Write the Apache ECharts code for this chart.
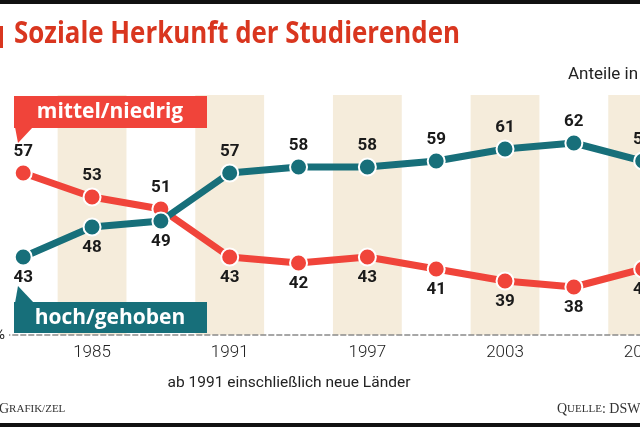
<!DOCTYPE html>
<html>
<head>
<meta charset="utf-8">
<script src="https://cdn.jsdelivr.net/npm/echarts@6/dist/echarts.min.js"></script>
<style>
html,body{margin:0;padding:0;background:#fff;}
#chart{width:640px;height:427px;}
</style>
</head>
<body>
<div id="chart"></div>
<script>
const years = ['1982','1985','1988','1991','1994','1997','2000','2003','2006','2009'];
const mittelNiedrig = [57, 53, 51, 43, 42, 43, 41, 39, 38, 41];
const hochGehoben   = [43, 48, 49, 57, 58, 58, 59, 61, 62, 59];
const yMin = 30, yMax = 70;

const RED = '#f0443a', TEAL = '#176f7a', BEIGE = '#f5ecdb';

function mk(vals, other) {
  return vals.map((v, i) => ({
    value: v,
    label: { position: v >= other[i] ? 'top' : 'bottom' }
  }));
}

const TITLE = 'Soziale Herkunft der Studierenden';
const TITLE_FONT = 'bold 30px "Open Sans", sans-serif';
const mc = document.createElement('canvas').getContext('2d');
mc.font = TITLE_FONT;
const titleScale = 446 / mc.measureText(TITLE).width;

const chart = echarts.init(document.getElementById('chart'), null, {renderer: 'canvas'});
const labelStyle = {
  show: true, distance: 3, color: '#1a1a1a',
  fontFamily: 'Roboto', fontWeight: 'bold', fontSize: 17
};
chart.setOption({
  animation: false,
  backgroundColor: '#fff',
  grid: { left: -11.2, width: 688.3, top: 95, height: 240, containLabel: false, outerBoundsMode: 'none' },
  xAxis: {
    type: 'category', data: years, boundaryGap: true,
    axisLine: { show: true, lineStyle: { color: '#8a8a8a', width: 1.5, type: [5, 3] } },
    axisTick: { show: false },
    axisLabel: {
      interval: (i) => i % 2 === 1, margin: 9,
      fontFamily: 'Roboto', fontSize: 17, fontWeight: 300, color: '#222'
    },
    splitArea: { show: true, interval: 0, areaStyle: { color: ['rgba(255,255,255,0)', BEIGE] } },
    splitLine: { show: false }
  },
  yAxis: {
    type: 'value', min: yMin, max: yMax, show: false,
    splitLine: { show: false }
  },
  series: [
    {
      name: 'mittel/niedrig', type: 'line', data: mk(mittelNiedrig, hochGehoben),
      symbol: 'circle', symbolSize: 17,
      lineStyle: { color: RED, width: 7 },
      itemStyle: { color: RED, borderColor: '#fff', borderWidth: 2 },
      label: labelStyle, z: 3
    },
    {
      name: 'hoch/gehoben', type: 'line', data: mk(hochGehoben, mittelNiedrig),
      symbol: 'circle', symbolSize: 17,
      lineStyle: { color: TEAL, width: 7 },
      itemStyle: { color: TEAL, borderColor: '#fff', borderWidth: 2 },
      label: labelStyle, z: 4
    }
  ],
  graphic: [
    { type: 'rect', shape: { x: 0, y: 0, width: 640, height: 4 }, style: { fill: '#111' }, z: 100 },
    { type: 'rect', shape: { x: 0, y: 423, width: 640, height: 4 }, style: { fill: '#111' }, z: 100 },
    { type: 'rect', shape: { x: 0, y: 26, width: 3, height: 22 }, style: { fill: '#d9361f' }, z: 100 },
    { type: 'text', x: 14, y: 19, scaleX: titleScale, z: 100,
      style: { text: TITLE, fill: '#d9361f', font: TITLE_FONT, verticalAlign: 'top' } },
    { type: 'text', x: 568, y: 66, z: 100,
      style: { text: 'Anteile in %', fill: '#222', font: '17px Roboto' } },
    // legend callouts
    { type: 'rect', shape: { x: 14, y: 96, width: 193, height: 32 }, style: { fill: RED }, z: 100 },
    { type: 'polygon', shape: { points: [[15, 127], [33, 127], [18, 143]] }, style: { fill: RED }, z: 100 },
    { type: 'text', x: 110, y: 112, z: 101,
      style: { text: 'mittel/niedrig', fill: '#fff', font: 'bold 21px "Open Sans"', align: 'center', verticalAlign: 'middle' } },
    { type: 'rect', shape: { x: 14, y: 302, width: 193, height: 31 }, style: { fill: TEAL }, z: 100 },
    { type: 'polygon', shape: { points: [[15, 303], [34, 303], [18, 286]] }, style: { fill: TEAL }, z: 100 },
    { type: 'text', x: 110, y: 318, z: 101,
      style: { text: 'hoch/gehoben', fill: '#fff', font: 'bold 21px "Open Sans"', align: 'center', verticalAlign: 'middle' } },
    // baseline unit
    { type: 'rect', shape: { x: 0, y: 328, width: 9, height: 14 }, style: { fill: '#fff' }, z: 100 },
    { type: 'text', x: 5, y: 335, z: 101,
      style: { text: '30 %', fill: '#222', font: '15px Roboto', align: 'right', verticalAlign: 'middle' } },
    { type: 'text', x: 289, y: 383, z: 100,
      style: { text: 'ab 1991 einschließlich neue Länder', fill: '#222', font: '15.5px Roboto', align: 'center', verticalAlign: 'middle' } },
    { type: 'text', x: -1, y: 409, z: 100,
      style: { text: '{a|G}{b|RAFIK/ZEL}', align: 'left', verticalAlign: 'middle',
        rich: { a: { fontFamily: 'Liberation Serif', fontSize: 14, fill: '#333', color: '#333' },
                b: { fontFamily: 'Liberation Serif', fontSize: 11, fill: '#333', color: '#333' } } } },
    { type: 'text', x: 557, y: 409, z: 100,
      style: { text: '{a|Q}{b|UELLE}{a|: DSW}', align: 'left', verticalAlign: 'middle',
        rich: { a: { fontFamily: 'Liberation Serif', fontSize: 14, fill: '#333', color: '#333' },
                b: { fontFamily: 'Liberation Serif', fontSize: 11, fill: '#333', color: '#333' } } } }
  ]
});
</script>
</body>
</html>
